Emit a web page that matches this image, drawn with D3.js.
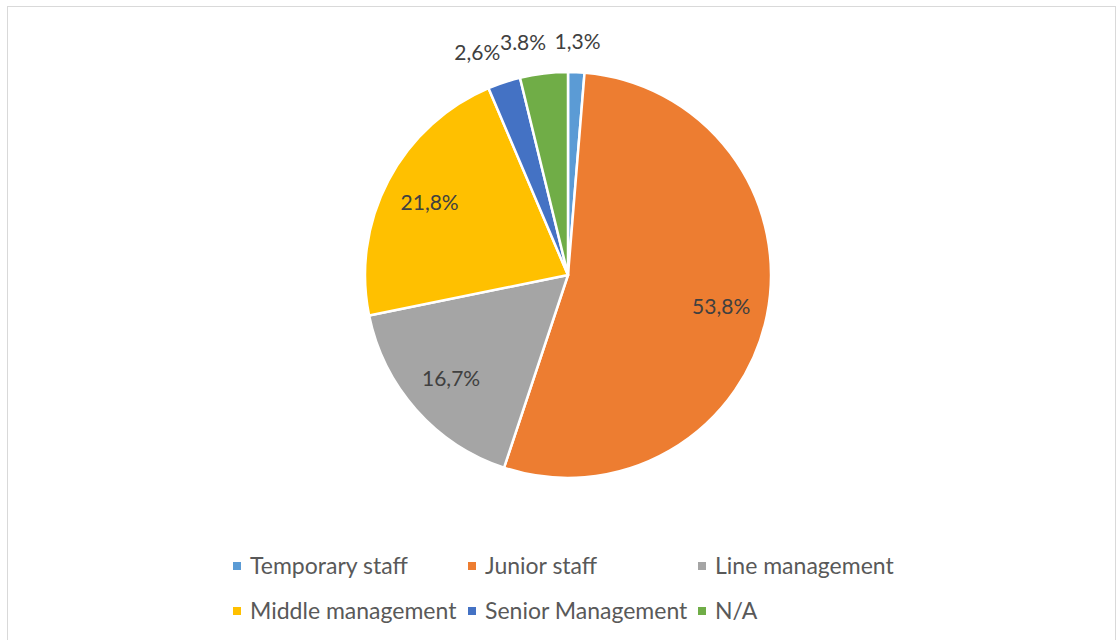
<!DOCTYPE html>
<html>
<head>
<meta charset="utf-8">
<script src="https://cdn.jsdelivr.net/npm/d3@7"></script>
<style>
  body { margin: 0; background: #fff; }
  svg { display: block; font-family: Lato, "Noto Sans", sans-serif; }
</style>
</head>
<body>
<svg id="chart"></svg>
<script>
// data
const categories = ["Temporary staff", "Junior staff", "Line management",
  "Middle management", "Senior Management", "N/A"];
const values = [1.3, 53.8, 16.7, 21.8, 2.6, 3.8];
const labels = ["1,3%", "53,8%", "16,7%", "21,8%", "2,6%", "3.8%"];
const colors = ["#5b9bd5", "#ed7d31", "#a5a5a5", "#ffc000", "#4472c4", "#70ad47"];

const width = 1117;
const height = 640;
const cx = 568;
const cy = 275;
const radius = 203;

const svg = d3.select("#chart")
  .attr("width", width)
  .attr("height", height);

// chart border
svg.append("rect")
  .attr("x", 7.5)
  .attr("y", 6.5)
  .attr("width", 1108)
  .attr("height", 660)
  .attr("fill", "none")
  .attr("stroke", "#d9d9d9");

const data = categories.map((name, i) => ({ name, value: values[i], label: labels[i], color: colors[i] }));

const pie = d3.pie().sort(null).value((d) => d.value);
const arcs = pie(data);

const arc = d3.arc().innerRadius(0).outerRadius(radius);
const insideArc = d3.arc().innerRadius(radius * 0.77).outerRadius(radius * 0.77);
const outsideArc = d3.arc().innerRadius(234).outerRadius(234);

const g = svg.append("g").attr("transform", `translate(${cx},${cy})`);

// slices
g.selectAll(".slice")
  .data(arcs)
  .enter()
  .append("path")
  .attr("class", "slice")
  .attr("d", arc)
  .attr("fill", (d) => d.data.color)
  .attr("stroke", "#fff")
  .attr("stroke-width", 2.5)
  .attr("stroke-linejoin", "round");

// data labels (small slices go outside, left ones end at the point)
const midAngle = (d) => (d.startAngle + d.endAngle) / 2;

g.selectAll(".label")
  .data(arcs)
  .enter()
  .append("text")
  .attr("class", "label")
  .attr("transform", (d) => {
    const small = d.data.value < 5;
    const p = (small ? outsideArc : insideArc).centroid(d);
    return `translate(${p[0]},${p[1]})`;
  })
  .attr("text-anchor", (d) => (d.data.value < 5 && midAngle(d) > Math.PI ? "end" : "middle"))
  .attr("dx", (d) => (d.data.value < 5 && midAngle(d) > Math.PI ? 6 : 0))
  .attr("dy", "0.35em")
  .style("font-size", "21px")
  .style("fill", "#404040")
  .text((d) => d.data.label);

// legend
const legendCols = [233, 468, 698];
const legendRows = [566, 611];

const legend = svg.selectAll(".legend")
  .data(data)
  .enter()
  .append("g")
  .attr("class", "legend")
  .attr("transform", (d, i) => `translate(${legendCols[i % 3]},${legendRows[Math.floor(i / 3)]})`);

legend.append("rect")
  .attr("x", 0)
  .attr("y", -4)
  .attr("width", 8)
  .attr("height", 8)
  .attr("fill", (d) => d.color);

legend.append("text")
  .attr("x", 17)
  .attr("dy", "0.35em")
  .style("font-size", "23px")
  .style("fill", "#595959")
  .text((d) => d.name);
</script>
</body>
</html>
